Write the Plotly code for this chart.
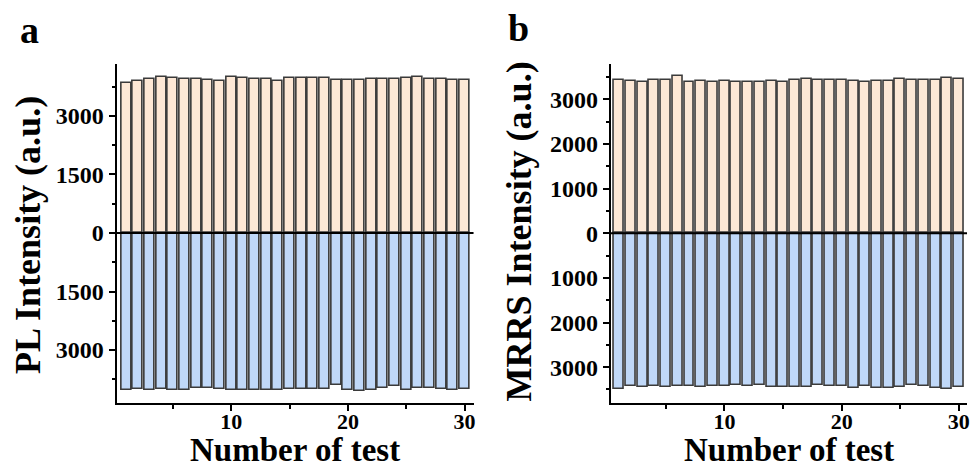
import plotly.graph_objects as go

tests = list(range(1, 31))

# Panel a: PL intensity (upper = peach bars, lower = blue bars shown downward)
pl_upper = [3838, 3906, 3957, 4009, 3983, 3940, 3957, 3923, 3897, 3992,
            3974, 3949, 3949, 3906, 3974, 3966, 3983, 3983, 3915, 3915,
            3915, 3957, 3940, 3957, 3974, 4000, 3940, 3957, 3915, 3923]
pl_lower = [4034, 4009, 4026, 4000, 4026, 4026, 3966, 3974, 4009, 4026,
            4026, 4034, 4026, 4034, 3991, 4009, 3991, 4000, 3897, 4034,
            4043, 4034, 3966, 3923, 4026, 3983, 3974, 3991, 4034, 3991]

# Panel b: MRRS intensity
mrrs_upper = [3424, 3408, 3379, 3437, 3430, 3513, 3386, 3408, 3386, 3408,
              3386, 3386, 3379, 3415, 3379, 3430, 3453, 3437, 3424, 3437,
              3415, 3386, 3415, 3401, 3460, 3424, 3424, 3424, 3475, 3460]
mrrs_lower = [3491, 3418, 3440, 3418, 3455, 3433, 3433, 3440, 3425, 3433,
              3403, 3418, 3410, 3440, 3455, 3455, 3455, 3396, 3418, 3433,
              3470, 3433, 3477, 3470, 3455, 3403, 3425, 3477, 3491, 3440]

a_ticks = [-3000, -1500, 0, 1500, 3000]
a_ticktext = ["3000", "1500", "0", "1500", "3000"]
b_ticks = [-3000, -2000, -1000, 0, 1000, 2000, 3000]
b_ticktext = ["3000", "2000", "1000", "0", "1000", "2000", "3000"]
x_ticks = [10, 20, 30]

PEACH = "#FDE8D6"
BLUE = "#C0D8F8"
EDGE = "#3A3A3A"
FONT = "Liberation Serif"

W, H = 976, 469

fig = go.Figure()

def add_bars(xa, ya, upper, lower):
    fig.add_trace(go.Bar(x=tests, y=upper, width=0.85, marker=dict(color=PEACH, line=dict(color=EDGE, width=1.6)),
                         xaxis=xa, yaxis=ya, showlegend=False))
    fig.add_trace(go.Bar(x=tests, y=[-v for v in lower], width=0.85,
                         marker=dict(color=BLUE, line=dict(color=EDGE, width=1.6)),
                         xaxis=xa, yaxis=ya, showlegend=False))

add_bars("x", "y", pl_upper, pl_lower)
add_bars("x2", "y2", mrrs_upper, mrrs_lower)

ytickfont = dict(family=FONT, size=24, color="black", weight="bold")
xtickfont = dict(family=FONT, size=22, color="black", weight="bold")

def xaxis_cfg(domain, rng, anchor):
    return dict(domain=domain, range=rng, anchor=anchor, tickmode="array", tickvals=x_ticks,
                ticks="outside", ticklen=6, tickwidth=2, tickcolor="black",
                showline=True, linewidth=2, linecolor="black", showgrid=False, zeroline=False,
                tickfont=xtickfont, ticklabelstandoff=-8,
                minor=dict(tickmode="linear", tick0=5, dtick=5, ticks="outside", ticklen=4,
                           tickwidth=2, tickcolor="black", showgrid=False))

def yaxis_cfg(rng, anchor, tv, tt, mdt):
    return dict(domain=[1 - 402.7 / H, 1 - 64 / H], range=rng, anchor=anchor, tickmode="array",
                tickvals=tv, ticktext=tt, ticks="outside", ticklen=6, tickwidth=2, tickcolor="black",
                showline=True, linewidth=2, linecolor="black", showgrid=False, zeroline=False,
                tickfont=ytickfont,
                minor=dict(tickmode="linear", tick0=0, dtick=mdt, ticks="outside", ticklen=3,
                           tickwidth=2, tickcolor="black", showgrid=False))

fig.update_layout(
    width=W, height=H, margin=dict(l=0, r=0, t=0, b=0),
    paper_bgcolor="white", plot_bgcolor="white",
    barmode="relative", bargap=0,
    xaxis=xaxis_cfg([117 / W, 475 / W], [0.17, 30.77], "y"),
    yaxis=yaxis_cfg([-4351, 4333], "x", a_ticks, a_ticktext, 750),
    xaxis2=xaxis_cfg([612.7 / W, 970 / W], [0.3, 30.7], "y2"),
    yaxis2=yaxis_cfg([-3796, 3789], "x2", b_ticks, b_ticktext, 500),
)

# zero lines across each panel
for xr, yr in (("x domain", "y"), ("x2 domain", "y2")):
    fig.add_shape(type="line", xref=xr, yref=yr, x0=0, x1=1, y0=0, y1=0,
                  line=dict(color="black", width=2), layer="above")

titlefont = dict(family=FONT, size=36, color="black", weight="bold")
xtitlefont = dict(family=FONT, size=33, color="black", weight="bold")
for text, x, y in (("PL Intensity (a.u.)", 28, 235), ("MRRS Intensity (a.u.)", 521, 231)):
    fig.add_annotation(text=text, xref="paper", yref="paper", x=x / W, y=1 - y / H, textangle=-90,
                       showarrow=False, xanchor="center", yanchor="middle", font=titlefont)
for x in (296, 791):
    fig.add_annotation(text="Number of test", xref="paper", yref="paper", x=x / W, y=0,
                       showarrow=False, xanchor="center", yanchor="bottom", borderpad=0,
                       font=xtitlefont)

labelfont = dict(family=FONT, size=38, color="black", weight="bold")
fig.add_annotation(text="a", xref="paper", yref="paper", x=30 / W, y=1 - 30 / H, showarrow=False,
                   xanchor="center", yanchor="middle", font=labelfont)
fig.add_annotation(text="b", xref="paper", yref="paper", x=520 / W, y=1 - 28 / H, showarrow=False,
                   xanchor="center", yanchor="middle", font=labelfont)

fig.write_html("out.html", config={"displayModeBar": False},
               post_script="document.body.style.margin='0';document.body.style.overflow='hidden';")
